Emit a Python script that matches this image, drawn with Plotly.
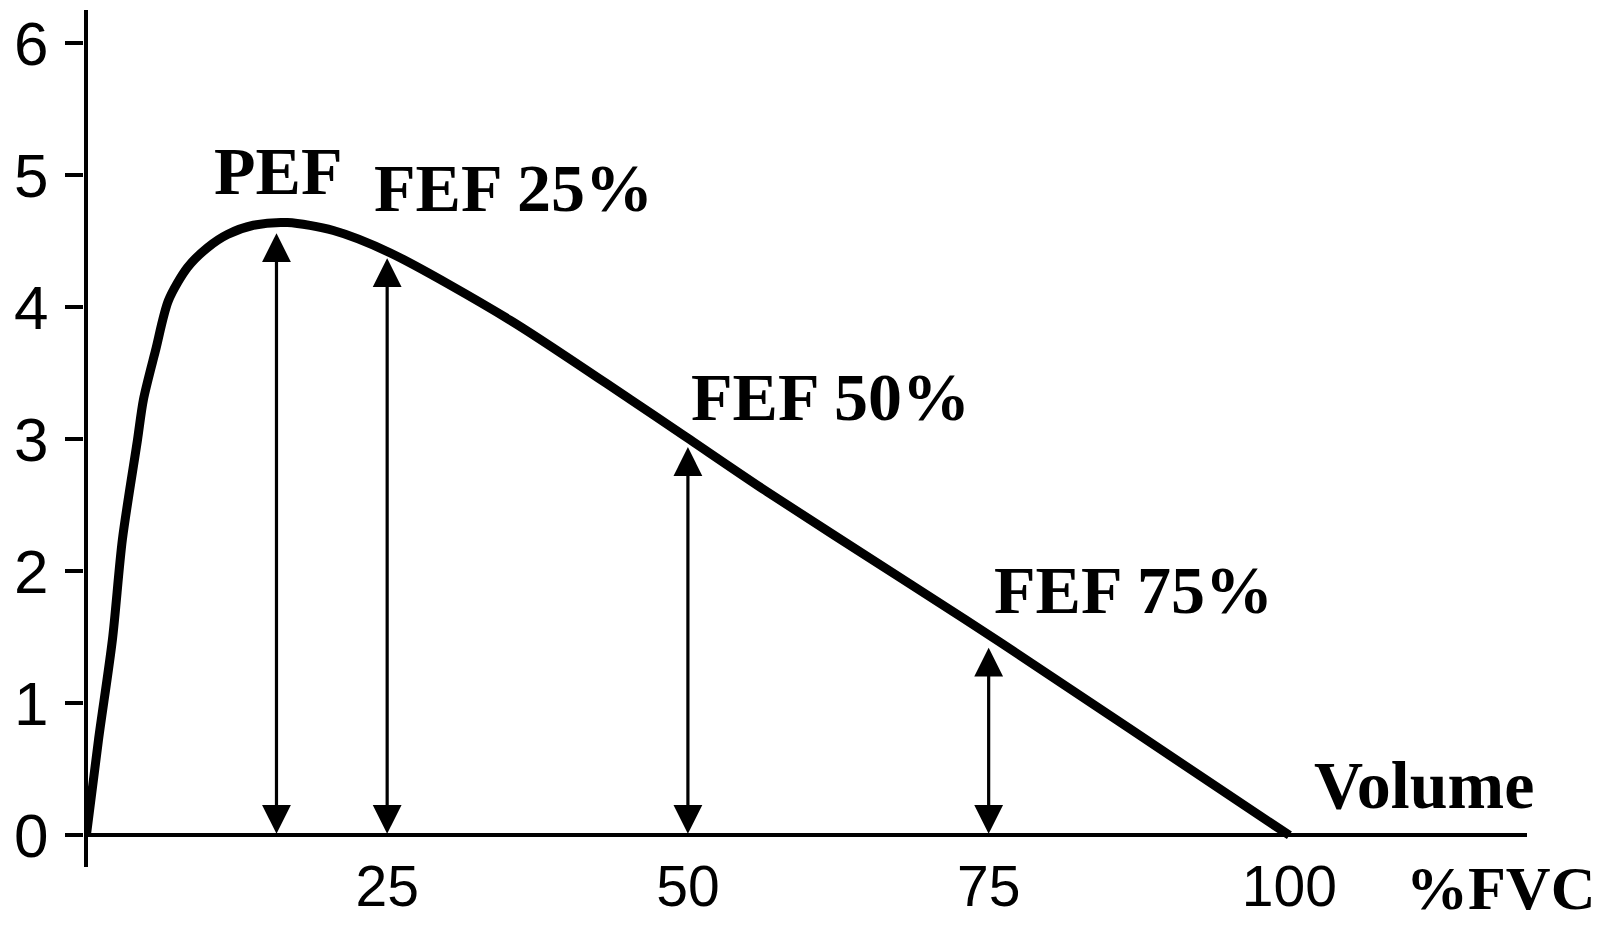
import plotly.graph_objects as go

# Flow-volume curve: volume as % of FVC vs flow (L/s)
vol_pct = [0, 1.0, 2.16, 2.99, 4.24, 4.74, 5.74, 6.82, 8.40, 10.06, 11.72, 13.88,
           16.71, 20.53, 25.27, 35.24, 45.22, 49.63, 56.61, 67.66, 75.98, 98.17, 100]
flow = [0, 0.72, 1.48, 2.24, 2.99, 3.30, 3.67, 4.05, 4.30, 4.45, 4.55, 4.62,
        4.64, 4.58, 4.41, 3.90, 3.30, 3.03, 2.60, 1.95, 1.46, 0.11, 0]

# Measurement markers: position on the volume axis and flow reached
marker_names = ["PEF", "FEF 25%", "FEF 50%", "FEF 75%"]
marker_x = [15.8, 25, 50, 75]
marker_flow = [4.56, 4.37, 2.94, 1.42]
label_x = [15.96, 35.49, 61.85, 87.03]
label_y = [5.03, 4.90, 3.32, 1.86]

x_ticks = [25, 50, 75, 100]
y_ticks = [0, 1, 2, 3, 4, 5, 6]

serif = "Liberation Serif, Times New Roman, serif"
sans = "Liberation Sans, Arial, sans-serif"
label_font = dict(family=serif, size=68, color="black", weight="bold")

fig = go.Figure()
fig.add_trace(go.Scatter(
    x=vol_pct, y=flow, mode="lines",
    line=dict(color="black", width=9, shape="spline", smoothing=0.8),
    hoverinfo="skip", showlegend=False,
))

annotations = []
for name, mx, mf, lx, ly in zip(marker_names, marker_x, marker_flow, label_x, label_y):
    # double-headed arrow from the volume axis up to the curve
    annotations.append(dict(
        x=mx, y=mf, ax=mx, ay=0, xref="x", yref="y", axref="x", ayref="y",
        text="", showarrow=True, arrowside="end+start",
        arrowhead=2, startarrowhead=2, arrowsize=1.8, startarrowsize=1.8,
        arrowwidth=3.2, arrowcolor="black", standoff=0, startstandoff=0,
    ))
    annotations.append(dict(
        x=lx, y=ly, xref="x", yref="y", text=name, showarrow=False,
        xanchor="center", yanchor="middle", font=label_font,
    ))

annotations.append(dict(
    x=111.22, y=0.38, xref="x", yref="y", text="Volume", showarrow=False,
    xanchor="center", yanchor="middle", font=label_font,
))
annotations.append(dict(
    x=1.0, y=-0.025, xref="paper", yref="paper", text="%FVC", showarrow=False,
    xanchor="right", yanchor="middle", xshift=70,
    font=dict(family=serif, size=62, color="black", weight="bold"),
))

fig.update_layout(
    width=1606, height=925,
    margin=dict(l=84, r=79, t=10, b=58),
    paper_bgcolor="white", plot_bgcolor="white",
    annotations=annotations,
    xaxis=dict(
        range=[-0.2, 119.75], showgrid=False, showline=False, automargin=False,
        anchor="free", position=0.022,
        zeroline=True, zerolinecolor="black", zerolinewidth=4,
        tickvals=x_ticks, ticks="", ticklabelstandoff=0,
        tickfont=dict(family=sans, size=57, color="black"),
    ),
    yaxis=dict(
        range=[-0.24, 6.25], showgrid=False, showline=False, automargin=False,
        zeroline=True, zerolinecolor="black", zerolinewidth=4,
        tickvals=y_ticks, ticks="outside", ticklen=18, tickwidth=4,
        tickcolor="black", ticklabelstandoff=4,
        tickfont=dict(family=sans, size=62, color="black"),
    ),
)

fig.write_html("out.html")
